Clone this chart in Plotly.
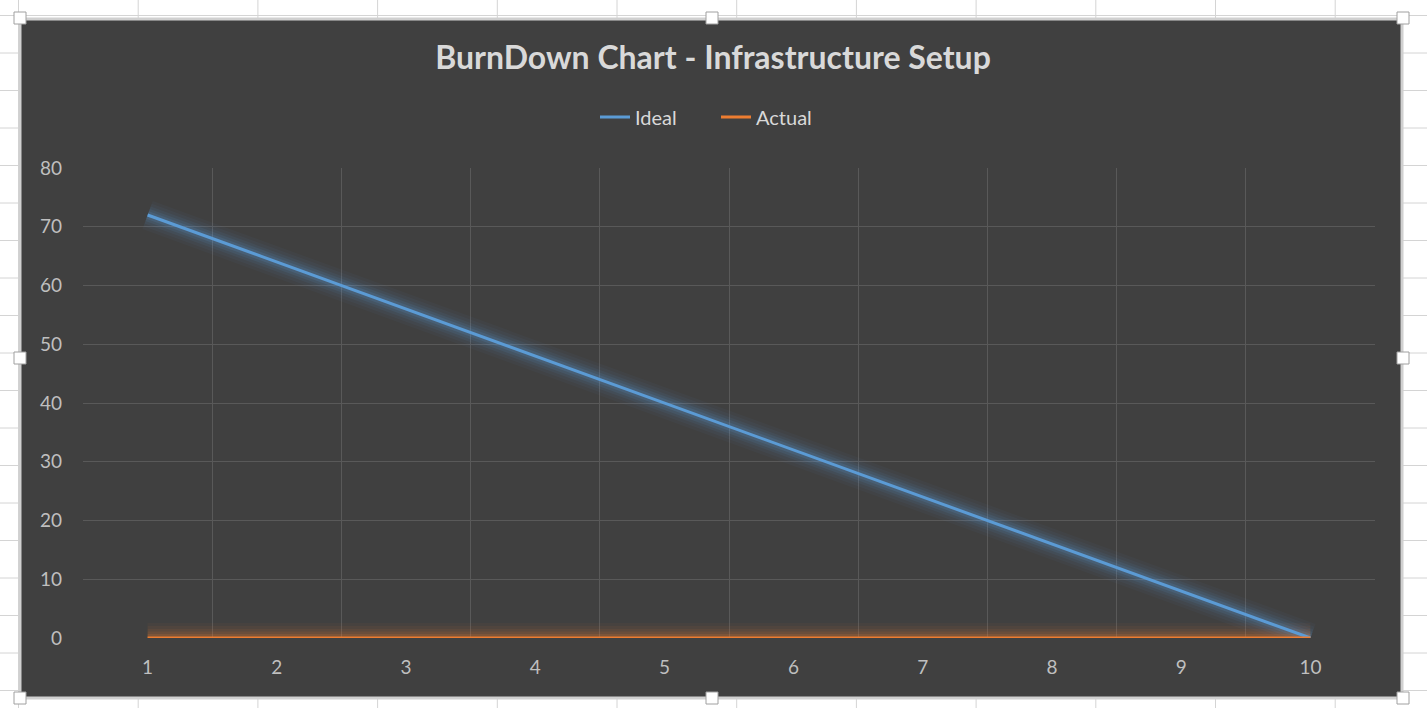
import plotly.graph_objects as go

days = [1, 2, 3, 4, 5, 6, 7, 8, 9, 10]
ideal = [72, 64, 56, 48, 40, 32, 24, 16, 8, 0]
actual = [0, 0, 0, 0, 0, 0, 0, 0, 0, 0]
y_ticks = [0, 10, 20, 30, 40, 50, 60, 70, 80]

W, H = 1427, 708
L, R, T, B = 83, 52, 168, 70
PW, PH = W - L - R, H - T - B

def px(x):
    return (x - L) / PW

def py(y):
    return (H - B - y) / PH

BG = "#404040"
BLUE = "#5B9BD5"
ORANGE = "#ED7D31"
FONT = "Lato"

fig = go.Figure()

# glow layers
for w, op in [(30, 0.04), (24, 0.05), (18, 0.07), (13, 0.10), (8, 0.15)]:
    for ys, c in [(ideal, BLUE), (actual, ORANGE)]:
        fig.add_trace(go.Scatter(x=days, y=ys, mode="lines", line=dict(color=c, width=w),
                                 opacity=op, showlegend=False, hoverinfo="skip"))

fig.add_trace(go.Scatter(x=days, y=ideal, mode="lines", name="Ideal",
                         line=dict(color=BLUE, width=3)))
fig.add_trace(go.Scatter(x=days, y=actual, mode="lines", name="Actual",
                         line=dict(color=ORANGE, width=3)))

shapes = []
# spreadsheet grid lines behind the chart
gx = 18.5
while gx < W:
    shapes.append(dict(type="line", xref="paper", yref="paper", x0=px(gx), x1=px(gx),
                       y0=py(0), y1=py(H), line=dict(color="#D4D4D4", width=1), layer="below"))
    gx += 119.7
gy = 15.5
while gy < H:
    shapes.append(dict(type="line", xref="paper", yref="paper", x0=px(0), x1=px(W),
                       y0=py(gy), y1=py(gy), line=dict(color="#D4D4D4", width=1), layer="below"))
    gy += 37.5
# chart area
shapes.append(dict(type="rect", xref="paper", yref="paper", x0=px(20), x1=px(1402),
                   y0=py(19), y1=py(698), fillcolor=BG,
                   line=dict(color="#D0D0D0", width=3), layer="below"))
# selection handles
for hx, hy in [(20, 18), (712, 18), (1403, 18), (20, 358), (1403, 358),
               (20, 698), (712, 698), (1403, 698)]:
    shapes.append(dict(type="rect", xref="paper", yref="paper", x0=px(hx - 6), x1=px(hx + 6),
                       y0=py(hy - 6), y1=py(hy + 6), fillcolor="white",
                       line=dict(color="#A0A0A0", width=1), layer="above"))

fig.update_layout(
    width=W, height=H,
    margin=dict(l=L, r=R, t=T, b=B),
    paper_bgcolor="white",
    plot_bgcolor=BG,
    shapes=shapes,
    title=dict(text="<b>BurnDown Chart - Infrastructure Setup</b>", xref="container",
               x=713 / W, xanchor="center",
               y=1 - 58 / H, yanchor="middle",
               font=dict(family=FONT, size=32, color="#D9D9D9")),
    legend=dict(orientation="h", x=px(716), xanchor="center", y=py(117), yanchor="middle",
                font=dict(family=FONT, size=20, color="#D9D9D9"), bgcolor="rgba(0,0,0,0)",
                entrywidth=76, entrywidthmode="pixels"),
    xaxis=dict(range=[0.5, 10.5], tickvals=days, ticktext=[str(d) for d in days],
               showgrid=False, zeroline=False, showline=False, ticks="",
               tickfont=dict(family=FONT, size=19, color="#BFBFBF"), ticklabelstandoff=16,
               minor=dict(tick0=0.5, dtick=1, showgrid=True, gridcolor="#595959", gridwidth=1),
               fixedrange=True),
    yaxis=dict(range=[0, 80], tickvals=y_ticks, showgrid=True, gridcolor="#595959", gridwidth=1,
               zeroline=False, showline=False, ticks="",
               tickfont=dict(family=FONT, size=19, color="#BFBFBF"), ticklabelstandoff=20,
               fixedrange=True),
)

fig.write_html("out.html")
